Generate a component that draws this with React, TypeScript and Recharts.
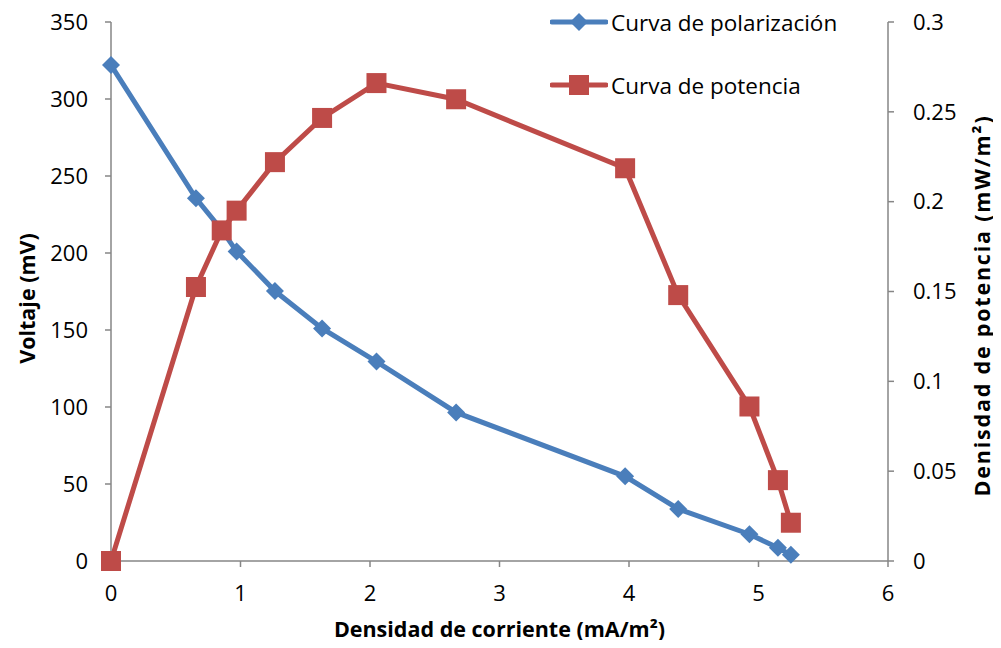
import { LineChart, Line, XAxis, YAxis } from "recharts";

const current = [0, 0.656, 0.855, 0.97, 1.266, 1.63, 2.05, 2.665, 3.97, 4.38, 4.93, 5.15, 5.25];
const voltage = [322, 235.5, 215, 201, 175.3, 151, 129.5, 96.5, 55, 33.8, 17.4, 8.6, 4];
const power = [0, 0.1525, 0.184, 0.195, 0.222, 0.2466, 0.266, 0.257, 0.2186, 0.148, 0.086, 0.045, 0.0213];

const xTicks = [0, 1, 2, 3, 4, 5, 6];
const voltTicks = [0, 50, 100, 150, 200, 250, 300, 350];
const powerTicks = [0, 0.05, 0.1, 0.15, 0.2, 0.25, 0.3];

const BLUE = "#4A7EBB";
const RED = "#BE4B48";
const AXIS = "#868686";

const data = current.map((x, i) => ({ x, v: voltage[i], p: power[i] }));

const diamond = (props: any) => {
  const { cx, cy, index } = props;
  const s = 9;
  return (
    <path
      key={`d${index}`}
      d={`M${cx},${cy - s}L${cx + s},${cy}L${cx},${cy + s}L${cx - s},${cy}Z`}
      fill={BLUE}
    />
  );
};

const square = (props: any) => {
  const { cx, cy, index } = props;
  return <rect key={`s${index}`} x={cx - 10} y={cy - 10} width={20} height={20} fill={RED} />;
};

const legendRows = [
  { name: "Curva de polarización", color: BLUE, shape: "diamond" },
  { name: "Curva de potencia", color: RED, shape: "square" },
];

// legend drawn as an overlay so it doesn't shrink the plot area
const ChartLegend = () => (
  <div style={{ position: "absolute", left: 550, top: 7 }}>
    {legendRows.map((r, i) => (
      <div key={r.name} style={{ display: "flex", alignItems: "center", height: 30, marginBottom: i === 0 ? 33 : 0 }}>
        <svg width={58} height={30}>
          <line x1={2} y1={15} x2={56} y2={15} stroke={r.color} strokeWidth={5} strokeLinecap="round" />
          {r.shape === "diamond" ? (
            <path d="M29,6L38,15L29,24L20,15Z" fill={r.color} />
          ) : (
            <rect x={19} y={5} width={20} height={20} fill={r.color} />
          )}
        </svg>
        <span style={{ fontSize: 22.5, marginLeft: 3, color: "#000", whiteSpace: "nowrap" }}>{r.name}</span>
      </div>
    ))}
  </div>
);

const tickStyle = { fontSize: 22, fill: "#000" };
const titleStyle = { fontSize: 21.5, fontWeight: 700, fill: "#000" };

export default function App() {
  return (
    <div
      style={{
        position: "relative",
        margin: -8,
        width: 1001,
        height: 648,
        fontFamily: "'Open Sans', sans-serif",
        background: "#fff",
      }}
    >
      <LineChart
        width={1001}
        height={648}
        data={data}
        margin={{ top: 22, right: 0, bottom: 0, left: 0 }}
        style={{ overflow: "visible" }}
      >
        <XAxis
          dataKey="x"
          type="number"
          domain={[0, 6]}
          ticks={xTicks}
          stroke={AXIS}
          strokeWidth={1.5}
          tickSize={6}
          tickMargin={18}
          tick={tickStyle}
          height={87}
          label={{ value: "Densidad de corriente (mA/m²)", position: "insideBottom", offset: 11, style: titleStyle }}
        />
        <YAxis
          yAxisId="left"
          domain={[0, 350]}
          ticks={voltTicks}
          stroke={AXIS}
          strokeWidth={1.5}
          tickSize={6}
          tickMargin={17}
          tick={tickStyle}
          width={111}
          label={{ value: "Voltaje (mV)", angle: -90, position: "center", dx: -28, dy: 7, style: titleStyle }}
        />
        <YAxis
          yAxisId="right"
          orientation="right"
          domain={[0, 0.3]}
          ticks={powerTicks}
          stroke={AXIS}
          strokeWidth={1.5}
          tickSize={6}
          tickMargin={19}
          tick={tickStyle}
          width={113}
          label={{
            value: "Denisdad de potencia (mW/m²)",
            angle: -90,
            position: "center",
            dx: 38,
            dy: 14,
            style: { ...titleStyle, letterSpacing: 1.8 },
          }}
        />
        <Line
          yAxisId="left"
          dataKey="v"
          name="Curva de polarización"
          stroke={BLUE}
          strokeWidth={5}
          dot={diamond}
          activeDot={false}
          isAnimationActive={false}
        />
        <Line
          yAxisId="right"
          dataKey="p"
          name="Curva de potencia"
          stroke={RED}
          strokeWidth={5}
          dot={square}
          activeDot={false}
          isAnimationActive={false}
        />
      </LineChart>
      <ChartLegend />
    </div>
  );
}
